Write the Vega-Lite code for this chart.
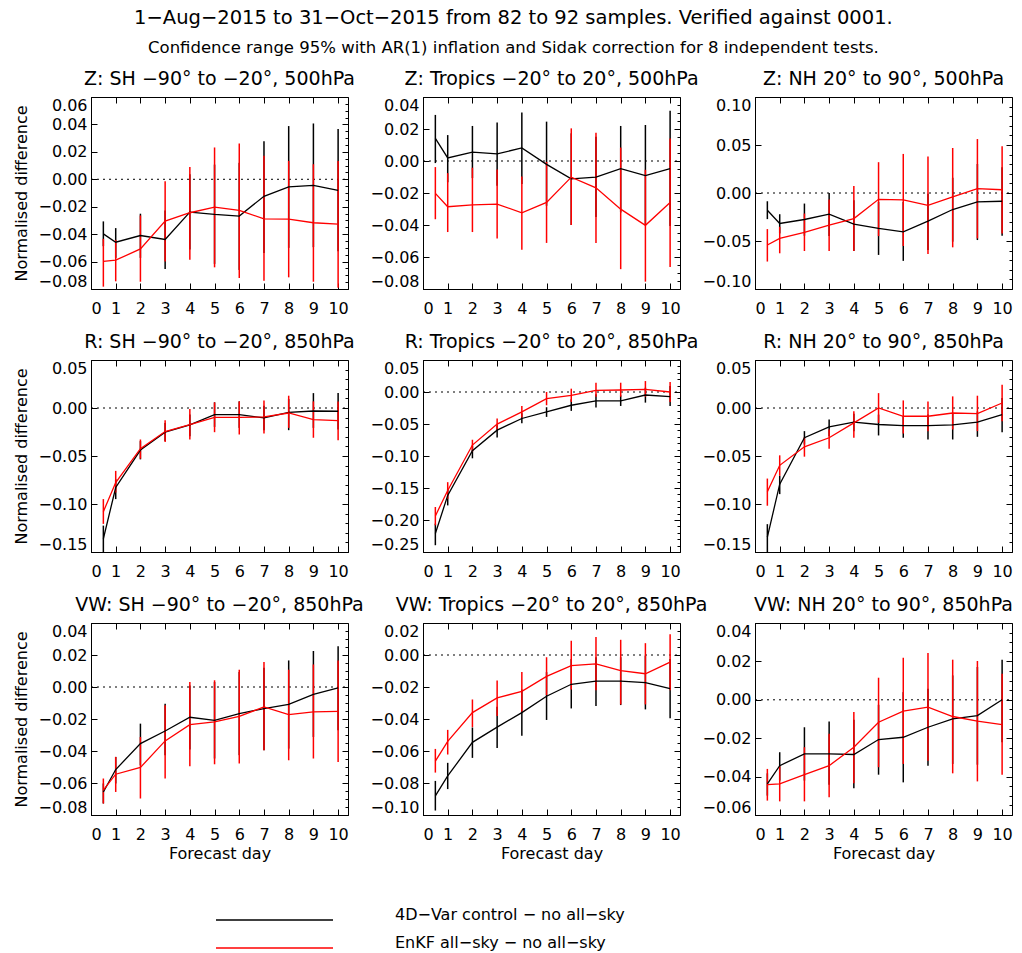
{
"$schema": "https://vega.github.io/schema/vega-lite/v6.json",
"padding": {"left": 13, "top": 8, "right": 5, "bottom": 5},
"title": {"text": "1−Aug−2015 to 31−Oct−2015 from 82 to 92 samples. Verified against 0001.", "subtitle": "Confidence range 95% with AR(1) inflation and Sidak correction for 8 independent tests.", "font": "DejaVu Sans", "subtitleFont": "DejaVu Sans", "fontSize": 19.5, "subtitleFontSize": 16.5, "fontWeight": "normal", "color": "black", "subtitleColor": "black", "anchor": "middle", "offset": 12, "subtitlePadding": 11},
"data": {"values": [
{"p":1,"s":"4D−Var control − no all−sky","d":0.5,"v":-0.0398,"lo":-0.0488,"hi":-0.0307},
{"p":1,"s":"4D−Var control − no all−sky","d":1,"v":-0.0459,"lo":-0.0573,"hi":-0.0356},
{"p":1,"s":"4D−Var control − no all−sky","d":2,"v":-0.041,"lo":-0.0573,"hi":-0.0251},
{"p":1,"s":"4D−Var control − no all−sky","d":3,"v":-0.0439,"lo":-0.0654,"hi":-0.0227},
{"p":1,"s":"4D−Var control − no all−sky","d":4,"v":-0.0239,"lo":-0.0512,"hi":0.0037},
{"p":1,"s":"4D−Var control − no all−sky","d":5,"v":-0.0256,"lo":-0.0617,"hi":0.0107},
{"p":1,"s":"4D−Var control − no all−sky","d":6,"v":-0.0268,"lo":-0.0661,"hi":0.012},
{"p":1,"s":"4D−Var control − no all−sky","d":7,"v":-0.0124,"lo":-0.0537,"hi":0.0278},
{"p":1,"s":"4D−Var control − no all−sky","d":8,"v":-0.0056,"lo":-0.05,"hi":0.0388},
{"p":1,"s":"4D−Var control − no all−sky","d":9,"v":-0.0044,"lo":-0.0495,"hi":0.0407},
{"p":1,"s":"4D−Var control − no all−sky","d":10,"v":-0.0081,"lo":-0.0525,"hi":0.0366},
{"p":1,"s":"EnKF all−sky − no all−sky","d":0.5,"v":-0.0598,"lo":-0.0783,"hi":-0.0434},
{"p":1,"s":"EnKF all−sky − no all−sky","d":1,"v":-0.059,"lo":-0.0744,"hi":-0.0442},
{"p":1,"s":"EnKF all−sky − no all−sky","d":2,"v":-0.0508,"lo":-0.0747,"hi":-0.0264},
{"p":1,"s":"EnKF all−sky − no all−sky","d":3,"v":-0.0305,"lo":-0.06,"hi":-0.0015},
{"p":1,"s":"EnKF all−sky − no all−sky","d":4,"v":-0.0244,"lo":-0.0586,"hi":0.009},
{"p":1,"s":"EnKF all−sky − no all−sky","d":5,"v":-0.0203,"lo":-0.0642,"hi":0.0232},
{"p":1,"s":"EnKF all−sky − no all−sky","d":6,"v":-0.0227,"lo":-0.072,"hi":0.0261},
{"p":1,"s":"EnKF all−sky − no all−sky","d":7,"v":-0.0288,"lo":-0.0739,"hi":0.0171},
{"p":1,"s":"EnKF all−sky − no all−sky","d":8,"v":-0.029,"lo":-0.0715,"hi":0.0134},
{"p":1,"s":"EnKF all−sky − no all−sky","d":9,"v":-0.0317,"lo":-0.0747,"hi":0.011},
{"p":1,"s":"EnKF all−sky − no all−sky","d":10,"v":-0.0327,"lo":-0.079,"hi":0.0134},
{"p":2,"s":"4D−Var control − no all−sky","d":0.5,"v":0.0141,"lo":-0.0013,"hi":0.0288},
{"p":2,"s":"4D−Var control − no all−sky","d":1,"v":0.0019,"lo":-0.0133,"hi":0.0162},
{"p":2,"s":"4D−Var control − no all−sky","d":2,"v":0.0055,"lo":-0.0107,"hi":0.0219},
{"p":2,"s":"4D−Var control − no all−sky","d":3,"v":0.0044,"lo":-0.0154,"hi":0.024},
{"p":2,"s":"4D−Var control − no all−sky","d":4,"v":0.0082,"lo":-0.0143,"hi":0.0303},
{"p":2,"s":"4D−Var control − no all−sky","d":5,"v":-0.0021,"lo":-0.028,"hi":0.0246},
{"p":2,"s":"4D−Var control − no all−sky","d":6,"v":-0.0112,"lo":-0.04,"hi":0.0173},
{"p":2,"s":"4D−Var control − no all−sky","d":7,"v":-0.0101,"lo":-0.035,"hi":0.0152},
{"p":2,"s":"4D−Var control − no all−sky","d":8,"v":-0.0048,"lo":-0.0322,"hi":0.0219},
{"p":2,"s":"4D−Var control − no all−sky","d":9,"v":-0.0091,"lo":-0.0396,"hi":0.0225},
{"p":2,"s":"4D−Var control − no all−sky","d":10,"v":-0.0048,"lo":-0.0406,"hi":0.0314},
{"p":2,"s":"EnKF all−sky − no all−sky","d":0.5,"v":-0.0202,"lo":-0.0364,"hi":-0.0038},
{"p":2,"s":"EnKF all−sky − no all−sky","d":1,"v":-0.0286,"lo":-0.0444,"hi":-0.0076},
{"p":2,"s":"EnKF all−sky − no all−sky","d":2,"v":-0.0274,"lo":-0.0444,"hi":-0.0042},
{"p":2,"s":"EnKF all−sky − no all−sky","d":3,"v":-0.0269,"lo":-0.0484,"hi":-0.0053},
{"p":2,"s":"EnKF all−sky − no all−sky","d":4,"v":-0.0324,"lo":-0.0554,"hi":-0.0097},
{"p":2,"s":"EnKF all−sky − no all−sky","d":5,"v":-0.0259,"lo":-0.0512,"hi":-0.0006},
{"p":2,"s":"EnKF all−sky − no all−sky","d":6,"v":-0.0101,"lo":-0.04,"hi":0.0204},
{"p":2,"s":"EnKF all−sky − no all−sky","d":7,"v":-0.0168,"lo":-0.0512,"hi":0.0177},
{"p":2,"s":"EnKF all−sky − no all−sky","d":8,"v":-0.0301,"lo":-0.0676,"hi":0.0084},
{"p":2,"s":"EnKF all−sky − no all−sky","d":9,"v":-0.0402,"lo":-0.0754,"hi":-0.0055},
{"p":2,"s":"EnKF all−sky − no all−sky","d":10,"v":-0.0259,"lo":-0.0663,"hi":0.0141},
{"p":3,"s":"4D−Var control − no all−sky","d":0.5,"v":-0.0179,"lo":-0.0272,"hi":-0.0086},
{"p":3,"s":"4D−Var control − no all−sky","d":1,"v":-0.0317,"lo":-0.0421,"hi":-0.0221},
{"p":3,"s":"4D−Var control − no all−sky","d":2,"v":-0.0276,"lo":-0.0445,"hi":-0.011},
{"p":3,"s":"4D−Var control − no all−sky","d":3,"v":-0.0221,"lo":-0.0449,"hi":0.0},
{"p":3,"s":"4D−Var control − no all−sky","d":4,"v":-0.0324,"lo":-0.0604,"hi":-0.0076},
{"p":3,"s":"4D−Var control − no all−sky","d":5,"v":-0.0369,"lo":-0.0645,"hi":-0.0093},
{"p":3,"s":"4D−Var control − no all−sky","d":6,"v":-0.0404,"lo":-0.0707,"hi":-0.0093},
{"p":3,"s":"4D−Var control − no all−sky","d":7,"v":-0.0293,"lo":-0.0593,"hi":-0.0007},
{"p":3,"s":"4D−Var control − no all−sky","d":8,"v":-0.0172,"lo":-0.0507,"hi":0.0159},
{"p":3,"s":"4D−Var control − no all−sky","d":9,"v":-0.0093,"lo":-0.049,"hi":0.0303},
{"p":3,"s":"4D−Var control − no all−sky","d":10,"v":-0.0086,"lo":-0.0445,"hi":0.0269},
{"p":3,"s":"EnKF all−sky − no all−sky","d":0.5,"v":-0.0542,"lo":-0.0714,"hi":-0.0376},
{"p":3,"s":"EnKF all−sky − no all−sky","d":1,"v":-0.0473,"lo":-0.0628,"hi":-0.0352},
{"p":3,"s":"EnKF all−sky − no all−sky","d":2,"v":-0.0411,"lo":-0.0604,"hi":-0.0214},
{"p":3,"s":"EnKF all−sky − no all−sky","d":3,"v":-0.0335,"lo":-0.0604,"hi":-0.0069},
{"p":3,"s":"EnKF all−sky − no all−sky","d":4,"v":-0.0266,"lo":-0.0604,"hi":0.0072},
{"p":3,"s":"EnKF all−sky − no all−sky","d":5,"v":-0.0066,"lo":-0.0449,"hi":0.0321},
{"p":3,"s":"EnKF all−sky − no all−sky","d":6,"v":-0.0072,"lo":-0.0552,"hi":0.0407},
{"p":3,"s":"EnKF all−sky − no all−sky","d":7,"v":-0.0128,"lo":-0.0635,"hi":0.038},
{"p":3,"s":"EnKF all−sky − no all−sky","d":8,"v":-0.0041,"lo":-0.0566,"hi":0.0469},
{"p":3,"s":"EnKF all−sky − no all−sky","d":9,"v":0.0045,"lo":-0.0473,"hi":0.0562},
{"p":3,"s":"EnKF all−sky − no all−sky","d":10,"v":0.0034,"lo":-0.0421,"hi":0.0486},
{"p":4,"s":"4D−Var control − no all−sky","d":0.5,"v":-0.1362,"lo":-0.15,"hi":-0.1225},
{"p":4,"s":"4D−Var control − no all−sky","d":1,"v":-0.0828,"lo":-0.0949,"hi":-0.0742},
{"p":4,"s":"4D−Var control − no all−sky","d":2,"v":-0.0438,"lo":-0.0535,"hi":-0.0345},
{"p":4,"s":"4D−Var control − no all−sky","d":3,"v":-0.0252,"lo":-0.0345,"hi":-0.0155},
{"p":4,"s":"4D−Var control − no all−sky","d":4,"v":-0.0176,"lo":-0.0293,"hi":-0.0069},
{"p":4,"s":"4D−Var control − no all−sky","d":5,"v":-0.0069,"lo":-0.0197,"hi":0.0059},
{"p":4,"s":"4D−Var control − no all−sky","d":6,"v":-0.0069,"lo":-0.0207,"hi":0.0069},
{"p":4,"s":"4D−Var control − no all−sky","d":7,"v":-0.0103,"lo":-0.0231,"hi":0.0024},
{"p":4,"s":"4D−Var control − no all−sky","d":8,"v":-0.0045,"lo":-0.0231,"hi":0.0093},
{"p":4,"s":"4D−Var control − no all−sky","d":9,"v":-0.0031,"lo":-0.0207,"hi":0.0155},
{"p":4,"s":"4D−Var control − no all−sky","d":10,"v":-0.0034,"lo":-0.0224,"hi":0.0155},
{"p":4,"s":"EnKF all−sky − no all−sky","d":0.5,"v":-0.108,"lo":-0.1207,"hi":-0.0949},
{"p":4,"s":"EnKF all−sky − no all−sky","d":1,"v":-0.0776,"lo":-0.088,"hi":-0.0655},
{"p":4,"s":"EnKF all−sky − no all−sky","d":2,"v":-0.0424,"lo":-0.0528,"hi":-0.0328},
{"p":4,"s":"EnKF all−sky − no all−sky","d":3,"v":-0.0245,"lo":-0.0355,"hi":-0.0128},
{"p":4,"s":"EnKF all−sky − no all−sky","d":4,"v":-0.0172,"lo":-0.0328,"hi":-0.001},
{"p":4,"s":"EnKF all−sky − no all−sky","d":5,"v":-0.0097,"lo":-0.0252,"hi":0.0059},
{"p":4,"s":"EnKF all−sky − no all−sky","d":6,"v":-0.0097,"lo":-0.0276,"hi":0.0069},
{"p":4,"s":"EnKF all−sky − no all−sky","d":7,"v":-0.0093,"lo":-0.0266,"hi":0.0079},
{"p":4,"s":"EnKF all−sky − no all−sky","d":8,"v":-0.0052,"lo":-0.0207,"hi":0.0128},
{"p":4,"s":"EnKF all−sky − no all−sky","d":9,"v":-0.0121,"lo":-0.031,"hi":0.0069},
{"p":4,"s":"EnKF all−sky − no all−sky","d":10,"v":-0.0131,"lo":-0.0335,"hi":0.0069},
{"p":5,"s":"4D−Var control − no all−sky","d":0.5,"v":-0.2212,"lo":-0.2394,"hi":-0.2057},
{"p":5,"s":"4D−Var control − no all−sky","d":1,"v":-0.1616,"lo":-0.1772,"hi":-0.1513},
{"p":5,"s":"4D−Var control − no all−sky","d":2,"v":-0.0917,"lo":-0.1036,"hi":-0.0839},
{"p":5,"s":"4D−Var control − no all−sky","d":3,"v":-0.0596,"lo":-0.071,"hi":-0.0518},
{"p":5,"s":"4D−Var control − no all−sky","d":4,"v":-0.0414,"lo":-0.0487,"hi":-0.0332},
{"p":5,"s":"4D−Var control − no all−sky","d":5,"v":-0.0311,"lo":-0.0389,"hi":-0.0238},
{"p":5,"s":"4D−Var control − no all−sky","d":6,"v":-0.0207,"lo":-0.0295,"hi":-0.0114},
{"p":5,"s":"4D−Var control − no all−sky","d":7,"v":-0.014,"lo":-0.0244,"hi":-0.0036},
{"p":5,"s":"4D−Var control − no all−sky","d":8,"v":-0.014,"lo":-0.0218,"hi":-0.0052},
{"p":5,"s":"4D−Var control − no all−sky","d":9,"v":-0.0047,"lo":-0.0166,"hi":0.0067},
{"p":5,"s":"4D−Var control − no all−sky","d":10,"v":-0.0073,"lo":-0.0218,"hi":0.0093},
{"p":5,"s":"EnKF all−sky − no all−sky","d":0.5,"v":-0.1937,"lo":-0.2083,"hi":-0.1797},
{"p":5,"s":"EnKF all−sky − no all−sky","d":1,"v":-0.1538,"lo":-0.1668,"hi":-0.1409},
{"p":5,"s":"EnKF all−sky − no all−sky","d":2,"v":-0.0829,"lo":-0.0932,"hi":-0.0746},
{"p":5,"s":"EnKF all−sky − no all−sky","d":3,"v":-0.0502,"lo":-0.0591,"hi":-0.0414},
{"p":5,"s":"EnKF all−sky − no all−sky","d":4,"v":-0.0311,"lo":-0.0399,"hi":-0.0218},
{"p":5,"s":"EnKF all−sky − no all−sky","d":5,"v":-0.0104,"lo":-0.0207,"hi":0.0},
{"p":5,"s":"EnKF all−sky − no all−sky","d":6,"v":-0.0052,"lo":-0.0155,"hi":0.0052},
{"p":5,"s":"EnKF all−sky − no all−sky","d":7,"v":0.0026,"lo":-0.0073,"hi":0.0145},
{"p":5,"s":"EnKF all−sky − no all−sky","d":8,"v":0.0031,"lo":-0.0073,"hi":0.0145},
{"p":5,"s":"EnKF all−sky − no all−sky","d":9,"v":0.0041,"lo":-0.0073,"hi":0.0171},
{"p":5,"s":"EnKF all−sky − no all−sky","d":10,"v":0.0,"lo":-0.0155,"hi":0.0155},
{"p":6,"s":"4D−Var control − no all−sky","d":0.5,"v":-0.1345,"lo":-0.15,"hi":-0.121},
{"p":6,"s":"4D−Var control − no all−sky","d":1,"v":-0.0794,"lo":-0.0897,"hi":-0.0707},
{"p":6,"s":"4D−Var control − no all−sky","d":2,"v":-0.031,"lo":-0.038,"hi":-0.0241},
{"p":6,"s":"4D−Var control − no all−sky","d":3,"v":-0.0197,"lo":-0.0293,"hi":-0.0121},
{"p":6,"s":"4D−Var control − no all−sky","d":4,"v":-0.0148,"lo":-0.0241,"hi":-0.0059},
{"p":6,"s":"4D−Var control − no all−sky","d":5,"v":-0.0172,"lo":-0.0286,"hi":-0.0069},
{"p":6,"s":"4D−Var control − no all−sky","d":6,"v":-0.0183,"lo":-0.031,"hi":-0.0086},
{"p":6,"s":"4D−Var control − no all−sky","d":7,"v":-0.0183,"lo":-0.0328,"hi":-0.0069},
{"p":6,"s":"4D−Var control − no all−sky","d":8,"v":-0.0176,"lo":-0.0328,"hi":-0.0059},
{"p":6,"s":"4D−Var control − no all−sky","d":9,"v":-0.0148,"lo":-0.03,"hi":-0.0035},
{"p":6,"s":"4D−Var control − no all−sky","d":10,"v":-0.0069,"lo":-0.0252,"hi":0.0104},
{"p":6,"s":"EnKF all−sky − no all−sky","d":0.5,"v":-0.0873,"lo":-0.1018,"hi":-0.0735},
{"p":6,"s":"EnKF all−sky − no all−sky","d":1,"v":-0.0597,"lo":-0.0707,"hi":-0.0493},
{"p":6,"s":"EnKF all−sky − no all−sky","d":2,"v":-0.0404,"lo":-0.0507,"hi":-0.0304},
{"p":6,"s":"EnKF all−sky − no all−sky","d":3,"v":-0.031,"lo":-0.0424,"hi":-0.0224},
{"p":6,"s":"EnKF all−sky − no all−sky","d":4,"v":-0.0155,"lo":-0.031,"hi":-0.0035},
{"p":6,"s":"EnKF all−sky − no all−sky","d":5,"v":0.0,"lo":-0.0155,"hi":0.0155},
{"p":6,"s":"EnKF all−sky − no all−sky","d":6,"v":-0.0086,"lo":-0.0266,"hi":0.0079},
{"p":6,"s":"EnKF all−sky − no all−sky","d":7,"v":-0.0086,"lo":-0.0241,"hi":0.0069},
{"p":6,"s":"EnKF all−sky − no all−sky","d":8,"v":-0.0052,"lo":-0.0224,"hi":0.0121},
{"p":6,"s":"EnKF all−sky − no all−sky","d":9,"v":-0.0059,"lo":-0.0241,"hi":0.0128},
{"p":6,"s":"EnKF all−sky − no all−sky","d":10,"v":0.0052,"lo":-0.0138,"hi":0.0241},
{"p":7,"s":"4D−Var control − no all−sky","d":0.5,"v":-0.0656,"lo":-0.0728,"hi":-0.0603},
{"p":7,"s":"4D−Var control − no all−sky","d":1,"v":-0.0516,"lo":-0.0603,"hi":-0.0437},
{"p":7,"s":"4D−Var control − no all−sky","d":2,"v":-0.0354,"lo":-0.0489,"hi":-0.0229},
{"p":7,"s":"4D−Var control − no all−sky","d":3,"v":-0.0275,"lo":-0.0426,"hi":-0.0104},
{"p":7,"s":"4D−Var control − no all−sky","d":4,"v":-0.0189,"lo":-0.0391,"hi":0.001},
{"p":7,"s":"4D−Var control − no all−sky","d":5,"v":-0.0208,"lo":-0.0447,"hi":0.0031},
{"p":7,"s":"4D−Var control − no all−sky","d":6,"v":-0.0166,"lo":-0.0426,"hi":0.0094},
{"p":7,"s":"4D−Var control − no all−sky","d":7,"v":-0.0135,"lo":-0.0395,"hi":0.0121},
{"p":7,"s":"4D−Var control − no all−sky","d":8,"v":-0.0108,"lo":-0.0385,"hi":0.0166},
{"p":7,"s":"4D−Var control − no all−sky","d":9,"v":-0.0046,"lo":-0.0312,"hi":0.0225},
{"p":7,"s":"4D−Var control − no all−sky","d":10,"v":-0.0006,"lo":-0.027,"hi":0.0254},
{"p":7,"s":"EnKF all−sky − no all−sky","d":0.5,"v":-0.0645,"lo":-0.0728,"hi":-0.0572},
{"p":7,"s":"EnKF all−sky − no all−sky","d":1,"v":-0.0545,"lo":-0.0656,"hi":-0.0437},
{"p":7,"s":"EnKF all−sky − no all−sky","d":2,"v":-0.0503,"lo":-0.0697,"hi":-0.0312},
{"p":7,"s":"EnKF all−sky − no all−sky","d":3,"v":-0.0337,"lo":-0.0572,"hi":-0.0114},
{"p":7,"s":"EnKF all−sky − no all−sky","d":4,"v":-0.0235,"lo":-0.0495,"hi":0.0031},
{"p":7,"s":"EnKF all−sky − no all−sky","d":5,"v":-0.0218,"lo":-0.0483,"hi":0.0042},
{"p":7,"s":"EnKF all−sky − no all−sky","d":6,"v":-0.0183,"lo":-0.0478,"hi":0.0108},
{"p":7,"s":"EnKF all−sky − no all−sky","d":7,"v":-0.0125,"lo":-0.0395,"hi":0.0156},
{"p":7,"s":"EnKF all−sky − no all−sky","d":8,"v":-0.0173,"lo":-0.0458,"hi":0.0108},
{"p":7,"s":"EnKF all−sky − no all−sky","d":9,"v":-0.0156,"lo":-0.0447,"hi":0.0141},
{"p":7,"s":"EnKF all−sky − no all−sky","d":10,"v":-0.0152,"lo":-0.0468,"hi":0.0166},
{"p":8,"s":"4D−Var control − no all−sky","d":0.5,"v":-0.088,"lo":-0.0972,"hi":-0.0787},
{"p":8,"s":"4D−Var control − no all−sky","d":1,"v":-0.0756,"lo":-0.0838,"hi":-0.0674},
{"p":8,"s":"4D−Var control − no all−sky","d":2,"v":-0.0546,"lo":-0.0643,"hi":-0.0453},
{"p":8,"s":"4D−Var control − no all−sky","d":3,"v":-0.0451,"lo":-0.0581,"hi":-0.0323},
{"p":8,"s":"4D−Var control − no all−sky","d":4,"v":-0.036,"lo":-0.0505,"hi":-0.0216},
{"p":8,"s":"4D−Var control − no all−sky","d":5,"v":-0.0258,"lo":-0.0406,"hi":-0.0107},
{"p":8,"s":"4D−Var control − no all−sky","d":6,"v":-0.0183,"lo":-0.0334,"hi":-0.0025},
{"p":8,"s":"4D−Var control − no all−sky","d":7,"v":-0.0163,"lo":-0.0319,"hi":-0.0014},
{"p":8,"s":"4D−Var control − no all−sky","d":8,"v":-0.0163,"lo":-0.0313,"hi":-0.0014},
{"p":8,"s":"4D−Var control − no all−sky","d":9,"v":-0.0173,"lo":-0.034,"hi":-0.0004},
{"p":8,"s":"4D−Var control − no all−sky","d":10,"v":-0.021,"lo":-0.0396,"hi":-0.0025},
{"p":8,"s":"EnKF all−sky − no all−sky","d":0.5,"v":-0.0663,"lo":-0.0735,"hi":-0.0587},
{"p":8,"s":"EnKF all−sky − no all−sky","d":1,"v":-0.054,"lo":-0.0622,"hi":-0.0468},
{"p":8,"s":"EnKF all−sky − no all−sky","d":2,"v":-0.036,"lo":-0.0451,"hi":-0.0278},
{"p":8,"s":"EnKF all−sky − no all−sky","d":3,"v":-0.0268,"lo":-0.0381,"hi":-0.0159},
{"p":8,"s":"EnKF all−sky − no all−sky","d":4,"v":-0.0227,"lo":-0.0354,"hi":-0.0107},
{"p":8,"s":"EnKF all−sky − no all−sky","d":5,"v":-0.0134,"lo":-0.0251,"hi":-0.0014},
{"p":8,"s":"EnKF all−sky − no all−sky","d":6,"v":-0.0066,"lo":-0.0216,"hi":0.0089},
{"p":8,"s":"EnKF all−sky − no all−sky","d":7,"v":-0.0056,"lo":-0.022,"hi":0.0113},
{"p":8,"s":"EnKF all−sky − no all−sky","d":8,"v":-0.0097,"lo":-0.0309,"hi":0.0095},
{"p":8,"s":"EnKF all−sky − no all−sky","d":9,"v":-0.0117,"lo":-0.0309,"hi":0.0074},
{"p":8,"s":"EnKF all−sky − no all−sky","d":10,"v":-0.0045,"lo":-0.022,"hi":0.013},
{"p":9,"s":"4D−Var control − no all−sky","d":0.5,"v":-0.0438,"lo":-0.0499,"hi":-0.0383},
{"p":9,"s":"4D−Var control − no all−sky","d":1,"v":-0.0343,"lo":-0.0421,"hi":-0.0273},
{"p":9,"s":"4D−Var control − no all−sky","d":2,"v":-0.0282,"lo":-0.0421,"hi":-0.0143},
{"p":9,"s":"4D−Var control − no all−sky","d":3,"v":-0.0282,"lo":-0.0442,"hi":-0.0113},
{"p":9,"s":"4D−Var control − no all−sky","d":4,"v":-0.0285,"lo":-0.0461,"hi":-0.0104},
{"p":9,"s":"4D−Var control − no all−sky","d":5,"v":-0.0207,"lo":-0.039,"hi":-0.0026},
{"p":9,"s":"4D−Var control − no all−sky","d":6,"v":-0.0195,"lo":-0.043,"hi":0.004},
{"p":9,"s":"4D−Var control − no all−sky","d":7,"v":-0.0143,"lo":-0.0343,"hi":0.0057},
{"p":9,"s":"4D−Var control − no all−sky","d":8,"v":-0.0099,"lo":-0.0334,"hi":0.0127},
{"p":9,"s":"4D−Var control − no all−sky","d":9,"v":-0.0082,"lo":-0.0338,"hi":0.0171},
{"p":9,"s":"4D−Var control − no all−sky","d":10,"v":0.0,"lo":-0.0221,"hi":0.0209},
{"p":9,"s":"EnKF all−sky − no all−sky","d":0.5,"v":-0.0442,"lo":-0.0525,"hi":-0.036},
{"p":9,"s":"EnKF all−sky − no all−sky","d":1,"v":-0.0438,"lo":-0.0529,"hi":-0.0346},
{"p":9,"s":"EnKF all−sky − no all−sky","d":2,"v":-0.039,"lo":-0.0529,"hi":-0.0247},
{"p":9,"s":"EnKF all−sky − no all−sky","d":3,"v":-0.0343,"lo":-0.0508,"hi":-0.0177},
{"p":9,"s":"EnKF all−sky − no all−sky","d":4,"v":-0.0247,"lo":-0.0435,"hi":-0.0064},
{"p":9,"s":"EnKF all−sky − no all−sky","d":5,"v":-0.0117,"lo":-0.0351,"hi":0.0115},
{"p":9,"s":"EnKF all−sky − no all−sky","d":6,"v":-0.0059,"lo":-0.0334,"hi":0.0219},
{"p":9,"s":"EnKF all−sky − no all−sky","d":7,"v":-0.0038,"lo":-0.0317,"hi":0.0244},
{"p":9,"s":"EnKF all−sky − no all−sky","d":8,"v":-0.0087,"lo":-0.0383,"hi":0.0209},
{"p":9,"s":"EnKF all−sky − no all−sky","d":9,"v":-0.0111,"lo":-0.0425,"hi":0.0202},
{"p":9,"s":"EnKF all−sky − no all−sky","d":10,"v":-0.0129,"lo":-0.039,"hi":0.0136}
]},
"bounds": "flush",
"columns": 3,
"spacing": {"row": 71, "column": 75},
"concat": [
{"width": 257, "height": 192, "title": "Z: SH −90° to −20°, 500hPa",
 "layer": [
  {"data": {"values": [{}]}, "mark": {"type": "rule", "strokeDash": [2, 4], "color": "black", "strokeWidth": 1},
   "encoding": {
    "x": {"datum": 0, "type": "quantitative", "scale": {"domain": [0, 10.4], "nice": false, "zero": false}, "axis": {"orient": "top", "values": [0,1,2,3,4,5,6,7,8,9,10], "labels": false, "domain": false, "title": null, "tickSize": -6}},
    "x2": {"datum": 10.4},
    "y": {"datum": 0, "type": "quantitative", "scale": {"domain": [-0.08, 0.06], "nice": false, "zero": false}, "axis": {"orient": "right", "values": [-0.08,-0.075,-0.07,-0.065,-0.06,-0.055,-0.05,-0.045,-0.04,-0.035,-0.03,-0.025,-0.02,-0.015,-0.01,-0.005,0,0.005,0.01,0.015,0.02,0.025,0.03,0.035,0.04,0.045,0.05,0.055,0.06], "labels": false, "domain": false, "title": null, "tickSize": {"condition": {"test": "abs(datum.value/0.02 - round(datum.value/0.02)) < 0.01", "value": -6}, "value": -3}}}
   }},
  {"transform": [{"filter": "datum.p == 1"}], "mark": {"type": "rule", "strokeWidth": 1.5, "clip": true},
   "encoding": {
    "x": {"field": "d", "type": "quantitative", "scale": {"domain": [0, 10.4], "nice": false, "zero": false}, "axis": {"orient": "bottom", "values": [0,1,2,3,4,5,6,7,8,9,10], "format": "d", "tickSize": -6, "labelPadding": 17, "title": null}},
    "y": {"field": "lo", "type": "quantitative", "scale": {"domain": [-0.08, 0.06], "nice": false, "zero": false}, "axis": {"orient": "left", "values": [-0.08,-0.06,-0.04,-0.02,0,0.02,0.04,0.06], "format": ".2f", "tickSize": -6, "labelPadding": 10, "labelFlush": true, "title": "Normalised difference", "titlePadding": 8}},
    "y2": {"field": "hi"},
    "color": {"field": "s", "type": "nominal", "scale": {"domain": ["4D−Var control − no all−sky", "EnKF all−sky − no all−sky"], "range": ["#000000", "#ff0000"]}, "title": null}
   }},
  {"transform": [{"filter": "datum.p == 1"}], "mark": {"type": "line", "strokeWidth": 1.3, "clip": true},
   "encoding": {
    "x": {"field": "d", "type": "quantitative", "scale": {"domain": [0, 10.4], "nice": false, "zero": false}, "axis": null},
    "y": {"field": "v", "type": "quantitative", "scale": {"domain": [-0.08, 0.06], "nice": false, "zero": false}, "axis": null},
    "color": {"field": "s", "type": "nominal", "scale": {"domain": ["4D−Var control − no all−sky", "EnKF all−sky − no all−sky"], "range": ["#000000", "#ff0000"]}, "title": null}
   }}
 ],
 "resolve": {"scale": {"x": "independent", "y": "independent"}}
},
{"width": 257, "height": 192, "title": "Z: Tropics −20° to 20°, 500hPa",
 "layer": [
  {"data": {"values": [{}]}, "mark": {"type": "rule", "strokeDash": [2, 4], "color": "black", "strokeWidth": 1},
   "encoding": {
    "x": {"datum": 0, "type": "quantitative", "scale": {"domain": [0, 10.4], "nice": false, "zero": false}, "axis": {"orient": "top", "values": [0,1,2,3,4,5,6,7,8,9,10], "labels": false, "domain": false, "title": null, "tickSize": -6}},
    "x2": {"datum": 10.4},
    "y": {"datum": 0, "type": "quantitative", "scale": {"domain": [-0.08, 0.04], "nice": false, "zero": false}, "axis": {"orient": "right", "values": [-0.08,-0.075,-0.07,-0.065,-0.06,-0.055,-0.05,-0.045,-0.04,-0.035,-0.03,-0.025,-0.02,-0.015,-0.01,-0.005,0,0.005,0.01,0.015,0.02,0.025,0.03,0.035,0.04], "labels": false, "domain": false, "title": null, "tickSize": {"condition": {"test": "abs(datum.value/0.02 - round(datum.value/0.02)) < 0.01", "value": -6}, "value": -3}}}
   }},
  {"transform": [{"filter": "datum.p == 2"}], "mark": {"type": "rule", "strokeWidth": 1.5, "clip": true},
   "encoding": {
    "x": {"field": "d", "type": "quantitative", "scale": {"domain": [0, 10.4], "nice": false, "zero": false}, "axis": {"orient": "bottom", "values": [0,1,2,3,4,5,6,7,8,9,10], "format": "d", "tickSize": -6, "labelPadding": 17, "title": null}},
    "y": {"field": "lo", "type": "quantitative", "scale": {"domain": [-0.08, 0.04], "nice": false, "zero": false}, "axis": {"orient": "left", "values": [-0.08,-0.06,-0.04,-0.02,0,0.02,0.04], "format": ".2f", "tickSize": -6, "labelPadding": 10, "labelFlush": true, "title": null}},
    "y2": {"field": "hi"},
    "color": {"field": "s", "type": "nominal", "scale": {"domain": ["4D−Var control − no all−sky", "EnKF all−sky − no all−sky"], "range": ["#000000", "#ff0000"]}, "title": null}
   }},
  {"transform": [{"filter": "datum.p == 2"}], "mark": {"type": "line", "strokeWidth": 1.3, "clip": true},
   "encoding": {
    "x": {"field": "d", "type": "quantitative", "scale": {"domain": [0, 10.4], "nice": false, "zero": false}, "axis": null},
    "y": {"field": "v", "type": "quantitative", "scale": {"domain": [-0.08, 0.04], "nice": false, "zero": false}, "axis": null},
    "color": {"field": "s", "type": "nominal", "scale": {"domain": ["4D−Var control − no all−sky", "EnKF all−sky − no all−sky"], "range": ["#000000", "#ff0000"]}, "title": null}
   }}
 ],
 "resolve": {"scale": {"x": "independent", "y": "independent"}}
},
{"width": 257, "height": 192, "title": "Z: NH 20° to 90°, 500hPa",
 "layer": [
  {"data": {"values": [{}]}, "mark": {"type": "rule", "strokeDash": [2, 4], "color": "black", "strokeWidth": 1},
   "encoding": {
    "x": {"datum": 0, "type": "quantitative", "scale": {"domain": [0, 10.4], "nice": false, "zero": false}, "axis": {"orient": "top", "values": [0,1,2,3,4,5,6,7,8,9,10], "labels": false, "domain": false, "title": null, "tickSize": -6}},
    "x2": {"datum": 10.4},
    "y": {"datum": 0, "type": "quantitative", "scale": {"domain": [-0.1, 0.1], "nice": false, "zero": false}, "axis": {"orient": "right", "values": [-0.1,-0.09,-0.08,-0.07,-0.06,-0.05,-0.04,-0.03,-0.02,-0.01,0,0.01,0.02,0.03,0.04,0.05,0.06,0.07,0.08,0.09,0.1], "labels": false, "domain": false, "title": null, "tickSize": {"condition": {"test": "abs(datum.value/0.05 - round(datum.value/0.05)) < 0.01", "value": -6}, "value": -3}}}
   }},
  {"transform": [{"filter": "datum.p == 3"}], "mark": {"type": "rule", "strokeWidth": 1.5, "clip": true},
   "encoding": {
    "x": {"field": "d", "type": "quantitative", "scale": {"domain": [0, 10.4], "nice": false, "zero": false}, "axis": {"orient": "bottom", "values": [0,1,2,3,4,5,6,7,8,9,10], "format": "d", "tickSize": -6, "labelPadding": 17, "title": null}},
    "y": {"field": "lo", "type": "quantitative", "scale": {"domain": [-0.1, 0.1], "nice": false, "zero": false}, "axis": {"orient": "left", "values": [-0.1,-0.05,0,0.05,0.1], "format": ".2f", "tickSize": -6, "labelPadding": 10, "labelFlush": true, "title": null}},
    "y2": {"field": "hi"},
    "color": {"field": "s", "type": "nominal", "scale": {"domain": ["4D−Var control − no all−sky", "EnKF all−sky − no all−sky"], "range": ["#000000", "#ff0000"]}, "title": null}
   }},
  {"transform": [{"filter": "datum.p == 3"}], "mark": {"type": "line", "strokeWidth": 1.3, "clip": true},
   "encoding": {
    "x": {"field": "d", "type": "quantitative", "scale": {"domain": [0, 10.4], "nice": false, "zero": false}, "axis": null},
    "y": {"field": "v", "type": "quantitative", "scale": {"domain": [-0.1, 0.1], "nice": false, "zero": false}, "axis": null},
    "color": {"field": "s", "type": "nominal", "scale": {"domain": ["4D−Var control − no all−sky", "EnKF all−sky − no all−sky"], "range": ["#000000", "#ff0000"]}, "title": null}
   }}
 ],
 "resolve": {"scale": {"x": "independent", "y": "independent"}}
},
{"width": 257, "height": 192, "title": "R: SH −90° to −20°, 850hPa",
 "layer": [
  {"data": {"values": [{}]}, "mark": {"type": "rule", "strokeDash": [2, 4], "color": "black", "strokeWidth": 1},
   "encoding": {
    "x": {"datum": 0, "type": "quantitative", "scale": {"domain": [0, 10.4], "nice": false, "zero": false}, "axis": {"orient": "top", "values": [0,1,2,3,4,5,6,7,8,9,10], "labels": false, "domain": false, "title": null, "tickSize": -6}},
    "x2": {"datum": 10.4},
    "y": {"datum": 0, "type": "quantitative", "scale": {"domain": [-0.15, 0.05], "nice": false, "zero": false}, "axis": {"orient": "right", "values": [-0.15,-0.14,-0.13,-0.12,-0.11,-0.1,-0.09,-0.08,-0.07,-0.06,-0.05,-0.04,-0.03,-0.02,-0.01,0,0.01,0.02,0.03,0.04,0.05], "labels": false, "domain": false, "title": null, "tickSize": {"condition": {"test": "abs(datum.value/0.05 - round(datum.value/0.05)) < 0.01", "value": -6}, "value": -3}}}
   }},
  {"transform": [{"filter": "datum.p == 4"}], "mark": {"type": "rule", "strokeWidth": 1.5, "clip": true},
   "encoding": {
    "x": {"field": "d", "type": "quantitative", "scale": {"domain": [0, 10.4], "nice": false, "zero": false}, "axis": {"orient": "bottom", "values": [0,1,2,3,4,5,6,7,8,9,10], "format": "d", "tickSize": -6, "labelPadding": 17, "title": null}},
    "y": {"field": "lo", "type": "quantitative", "scale": {"domain": [-0.15, 0.05], "nice": false, "zero": false}, "axis": {"orient": "left", "values": [-0.15,-0.1,-0.05,0,0.05], "format": ".2f", "tickSize": -6, "labelPadding": 10, "labelFlush": true, "title": "Normalised difference", "titlePadding": 8}},
    "y2": {"field": "hi"},
    "color": {"field": "s", "type": "nominal", "scale": {"domain": ["4D−Var control − no all−sky", "EnKF all−sky − no all−sky"], "range": ["#000000", "#ff0000"]}, "title": null}
   }},
  {"transform": [{"filter": "datum.p == 4"}], "mark": {"type": "line", "strokeWidth": 1.3, "clip": true},
   "encoding": {
    "x": {"field": "d", "type": "quantitative", "scale": {"domain": [0, 10.4], "nice": false, "zero": false}, "axis": null},
    "y": {"field": "v", "type": "quantitative", "scale": {"domain": [-0.15, 0.05], "nice": false, "zero": false}, "axis": null},
    "color": {"field": "s", "type": "nominal", "scale": {"domain": ["4D−Var control − no all−sky", "EnKF all−sky − no all−sky"], "range": ["#000000", "#ff0000"]}, "title": null}
   }}
 ],
 "resolve": {"scale": {"x": "independent", "y": "independent"}}
},
{"width": 257, "height": 192, "title": "R: Tropics −20° to 20°, 850hPa",
 "layer": [
  {"data": {"values": [{}]}, "mark": {"type": "rule", "strokeDash": [2, 4], "color": "black", "strokeWidth": 1},
   "encoding": {
    "x": {"datum": 0, "type": "quantitative", "scale": {"domain": [0, 10.4], "nice": false, "zero": false}, "axis": {"orient": "top", "values": [0,1,2,3,4,5,6,7,8,9,10], "labels": false, "domain": false, "title": null, "tickSize": -6}},
    "x2": {"datum": 10.4},
    "y": {"datum": 0, "type": "quantitative", "scale": {"domain": [-0.25, 0.05], "nice": false, "zero": false}, "axis": {"orient": "right", "values": [-0.25,-0.24,-0.23,-0.22,-0.21,-0.2,-0.19,-0.18,-0.17,-0.16,-0.15,-0.14,-0.13,-0.12,-0.11,-0.1,-0.09,-0.08,-0.07,-0.06,-0.05,-0.04,-0.03,-0.02,-0.01,0,0.01,0.02,0.03,0.04,0.05], "labels": false, "domain": false, "title": null, "tickSize": {"condition": {"test": "abs(datum.value/0.05 - round(datum.value/0.05)) < 0.01", "value": -6}, "value": -3}}}
   }},
  {"transform": [{"filter": "datum.p == 5"}], "mark": {"type": "rule", "strokeWidth": 1.5, "clip": true},
   "encoding": {
    "x": {"field": "d", "type": "quantitative", "scale": {"domain": [0, 10.4], "nice": false, "zero": false}, "axis": {"orient": "bottom", "values": [0,1,2,3,4,5,6,7,8,9,10], "format": "d", "tickSize": -6, "labelPadding": 17, "title": null}},
    "y": {"field": "lo", "type": "quantitative", "scale": {"domain": [-0.25, 0.05], "nice": false, "zero": false}, "axis": {"orient": "left", "values": [-0.25,-0.2,-0.15,-0.1,-0.05,0,0.05], "format": ".2f", "tickSize": -6, "labelPadding": 10, "labelFlush": true, "title": null}},
    "y2": {"field": "hi"},
    "color": {"field": "s", "type": "nominal", "scale": {"domain": ["4D−Var control − no all−sky", "EnKF all−sky − no all−sky"], "range": ["#000000", "#ff0000"]}, "title": null}
   }},
  {"transform": [{"filter": "datum.p == 5"}], "mark": {"type": "line", "strokeWidth": 1.3, "clip": true},
   "encoding": {
    "x": {"field": "d", "type": "quantitative", "scale": {"domain": [0, 10.4], "nice": false, "zero": false}, "axis": null},
    "y": {"field": "v", "type": "quantitative", "scale": {"domain": [-0.25, 0.05], "nice": false, "zero": false}, "axis": null},
    "color": {"field": "s", "type": "nominal", "scale": {"domain": ["4D−Var control − no all−sky", "EnKF all−sky − no all−sky"], "range": ["#000000", "#ff0000"]}, "title": null}
   }}
 ],
 "resolve": {"scale": {"x": "independent", "y": "independent"}}
},
{"width": 257, "height": 192, "title": "R: NH 20° to 90°, 850hPa",
 "layer": [
  {"data": {"values": [{}]}, "mark": {"type": "rule", "strokeDash": [2, 4], "color": "black", "strokeWidth": 1},
   "encoding": {
    "x": {"datum": 0, "type": "quantitative", "scale": {"domain": [0, 10.4], "nice": false, "zero": false}, "axis": {"orient": "top", "values": [0,1,2,3,4,5,6,7,8,9,10], "labels": false, "domain": false, "title": null, "tickSize": -6}},
    "x2": {"datum": 10.4},
    "y": {"datum": 0, "type": "quantitative", "scale": {"domain": [-0.15, 0.05], "nice": false, "zero": false}, "axis": {"orient": "right", "values": [-0.15,-0.14,-0.13,-0.12,-0.11,-0.1,-0.09,-0.08,-0.07,-0.06,-0.05,-0.04,-0.03,-0.02,-0.01,0,0.01,0.02,0.03,0.04,0.05], "labels": false, "domain": false, "title": null, "tickSize": {"condition": {"test": "abs(datum.value/0.05 - round(datum.value/0.05)) < 0.01", "value": -6}, "value": -3}}}
   }},
  {"transform": [{"filter": "datum.p == 6"}], "mark": {"type": "rule", "strokeWidth": 1.5, "clip": true},
   "encoding": {
    "x": {"field": "d", "type": "quantitative", "scale": {"domain": [0, 10.4], "nice": false, "zero": false}, "axis": {"orient": "bottom", "values": [0,1,2,3,4,5,6,7,8,9,10], "format": "d", "tickSize": -6, "labelPadding": 17, "title": null}},
    "y": {"field": "lo", "type": "quantitative", "scale": {"domain": [-0.15, 0.05], "nice": false, "zero": false}, "axis": {"orient": "left", "values": [-0.15,-0.1,-0.05,0,0.05], "format": ".2f", "tickSize": -6, "labelPadding": 10, "labelFlush": true, "title": null}},
    "y2": {"field": "hi"},
    "color": {"field": "s", "type": "nominal", "scale": {"domain": ["4D−Var control − no all−sky", "EnKF all−sky − no all−sky"], "range": ["#000000", "#ff0000"]}, "title": null}
   }},
  {"transform": [{"filter": "datum.p == 6"}], "mark": {"type": "line", "strokeWidth": 1.3, "clip": true},
   "encoding": {
    "x": {"field": "d", "type": "quantitative", "scale": {"domain": [0, 10.4], "nice": false, "zero": false}, "axis": null},
    "y": {"field": "v", "type": "quantitative", "scale": {"domain": [-0.15, 0.05], "nice": false, "zero": false}, "axis": null},
    "color": {"field": "s", "type": "nominal", "scale": {"domain": ["4D−Var control − no all−sky", "EnKF all−sky − no all−sky"], "range": ["#000000", "#ff0000"]}, "title": null}
   }}
 ],
 "resolve": {"scale": {"x": "independent", "y": "independent"}}
},
{"width": 257, "height": 192, "title": "VW: SH −90° to −20°, 850hPa",
 "layer": [
  {"data": {"values": [{}]}, "mark": {"type": "rule", "strokeDash": [2, 4], "color": "black", "strokeWidth": 1},
   "encoding": {
    "x": {"datum": 0, "type": "quantitative", "scale": {"domain": [0, 10.4], "nice": false, "zero": false}, "axis": {"orient": "top", "values": [0,1,2,3,4,5,6,7,8,9,10], "labels": false, "domain": false, "title": null, "tickSize": -6}},
    "x2": {"datum": 10.4},
    "y": {"datum": 0, "type": "quantitative", "scale": {"domain": [-0.08, 0.04], "nice": false, "zero": false}, "axis": {"orient": "right", "values": [-0.08,-0.075,-0.07,-0.065,-0.06,-0.055,-0.05,-0.045,-0.04,-0.035,-0.03,-0.025,-0.02,-0.015,-0.01,-0.005,0,0.005,0.01,0.015,0.02,0.025,0.03,0.035,0.04], "labels": false, "domain": false, "title": null, "tickSize": {"condition": {"test": "abs(datum.value/0.02 - round(datum.value/0.02)) < 0.01", "value": -6}, "value": -3}}}
   }},
  {"transform": [{"filter": "datum.p == 7"}], "mark": {"type": "rule", "strokeWidth": 1.5, "clip": true},
   "encoding": {
    "x": {"field": "d", "type": "quantitative", "scale": {"domain": [0, 10.4], "nice": false, "zero": false}, "axis": {"orient": "bottom", "values": [0,1,2,3,4,5,6,7,8,9,10], "format": "d", "tickSize": -6, "labelPadding": 17, "title": "Forecast day", "titlePadding": 3}},
    "y": {"field": "lo", "type": "quantitative", "scale": {"domain": [-0.08, 0.04], "nice": false, "zero": false}, "axis": {"orient": "left", "values": [-0.08,-0.06,-0.04,-0.02,0,0.02,0.04], "format": ".2f", "tickSize": -6, "labelPadding": 10, "labelFlush": true, "title": "Normalised difference", "titlePadding": 8}},
    "y2": {"field": "hi"},
    "color": {"field": "s", "type": "nominal", "scale": {"domain": ["4D−Var control − no all−sky", "EnKF all−sky − no all−sky"], "range": ["#000000", "#ff0000"]}, "title": null}
   }},
  {"transform": [{"filter": "datum.p == 7"}], "mark": {"type": "line", "strokeWidth": 1.3, "clip": true},
   "encoding": {
    "x": {"field": "d", "type": "quantitative", "scale": {"domain": [0, 10.4], "nice": false, "zero": false}, "axis": null},
    "y": {"field": "v", "type": "quantitative", "scale": {"domain": [-0.08, 0.04], "nice": false, "zero": false}, "axis": null},
    "color": {"field": "s", "type": "nominal", "scale": {"domain": ["4D−Var control − no all−sky", "EnKF all−sky − no all−sky"], "range": ["#000000", "#ff0000"]}, "title": null}
   }}
 ],
 "resolve": {"scale": {"x": "independent", "y": "independent"}}
},
{"width": 257, "height": 192, "title": "VW: Tropics −20° to 20°, 850hPa",
 "layer": [
  {"data": {"values": [{}]}, "mark": {"type": "rule", "strokeDash": [2, 4], "color": "black", "strokeWidth": 1},
   "encoding": {
    "x": {"datum": 0, "type": "quantitative", "scale": {"domain": [0, 10.4], "nice": false, "zero": false}, "axis": {"orient": "top", "values": [0,1,2,3,4,5,6,7,8,9,10], "labels": false, "domain": false, "title": null, "tickSize": -6}},
    "x2": {"datum": 10.4},
    "y": {"datum": 0, "type": "quantitative", "scale": {"domain": [-0.1, 0.02], "nice": false, "zero": false}, "axis": {"orient": "right", "values": [-0.1,-0.095,-0.09,-0.085,-0.08,-0.075,-0.07,-0.065,-0.06,-0.055,-0.05,-0.045,-0.04,-0.035,-0.03,-0.025,-0.02,-0.015,-0.01,-0.005,0,0.005,0.01,0.015,0.02], "labels": false, "domain": false, "title": null, "tickSize": {"condition": {"test": "abs(datum.value/0.02 - round(datum.value/0.02)) < 0.01", "value": -6}, "value": -3}}}
   }},
  {"transform": [{"filter": "datum.p == 8"}], "mark": {"type": "rule", "strokeWidth": 1.5, "clip": true},
   "encoding": {
    "x": {"field": "d", "type": "quantitative", "scale": {"domain": [0, 10.4], "nice": false, "zero": false}, "axis": {"orient": "bottom", "values": [0,1,2,3,4,5,6,7,8,9,10], "format": "d", "tickSize": -6, "labelPadding": 17, "title": "Forecast day", "titlePadding": 3}},
    "y": {"field": "lo", "type": "quantitative", "scale": {"domain": [-0.1, 0.02], "nice": false, "zero": false}, "axis": {"orient": "left", "values": [-0.1,-0.08,-0.06,-0.04,-0.02,0,0.02], "format": ".2f", "tickSize": -6, "labelPadding": 10, "labelFlush": true, "title": null}},
    "y2": {"field": "hi"},
    "color": {"field": "s", "type": "nominal", "scale": {"domain": ["4D−Var control − no all−sky", "EnKF all−sky − no all−sky"], "range": ["#000000", "#ff0000"]}, "title": null}
   }},
  {"transform": [{"filter": "datum.p == 8"}], "mark": {"type": "line", "strokeWidth": 1.3, "clip": true},
   "encoding": {
    "x": {"field": "d", "type": "quantitative", "scale": {"domain": [0, 10.4], "nice": false, "zero": false}, "axis": null},
    "y": {"field": "v", "type": "quantitative", "scale": {"domain": [-0.1, 0.02], "nice": false, "zero": false}, "axis": null},
    "color": {"field": "s", "type": "nominal", "scale": {"domain": ["4D−Var control − no all−sky", "EnKF all−sky − no all−sky"], "range": ["#000000", "#ff0000"]}, "title": null}
   }}
 ],
 "resolve": {"scale": {"x": "independent", "y": "independent"}}
},
{"width": 257, "height": 192, "title": "VW: NH 20° to 90°, 850hPa",
 "layer": [
  {"data": {"values": [{}]}, "mark": {"type": "rule", "strokeDash": [2, 4], "color": "black", "strokeWidth": 1},
   "encoding": {
    "x": {"datum": 0, "type": "quantitative", "scale": {"domain": [0, 10.4], "nice": false, "zero": false}, "axis": {"orient": "top", "values": [0,1,2,3,4,5,6,7,8,9,10], "labels": false, "domain": false, "title": null, "tickSize": -6}},
    "x2": {"datum": 10.4},
    "y": {"datum": 0, "type": "quantitative", "scale": {"domain": [-0.06, 0.04], "nice": false, "zero": false}, "axis": {"orient": "right", "values": [-0.06,-0.055,-0.05,-0.045,-0.04,-0.035,-0.03,-0.025,-0.02,-0.015,-0.01,-0.005,0,0.005,0.01,0.015,0.02,0.025,0.03,0.035,0.04], "labels": false, "domain": false, "title": null, "tickSize": {"condition": {"test": "abs(datum.value/0.02 - round(datum.value/0.02)) < 0.01", "value": -6}, "value": -3}}}
   }},
  {"transform": [{"filter": "datum.p == 9"}], "mark": {"type": "rule", "strokeWidth": 1.5, "clip": true},
   "encoding": {
    "x": {"field": "d", "type": "quantitative", "scale": {"domain": [0, 10.4], "nice": false, "zero": false}, "axis": {"orient": "bottom", "values": [0,1,2,3,4,5,6,7,8,9,10], "format": "d", "tickSize": -6, "labelPadding": 17, "title": "Forecast day", "titlePadding": 3}},
    "y": {"field": "lo", "type": "quantitative", "scale": {"domain": [-0.06, 0.04], "nice": false, "zero": false}, "axis": {"orient": "left", "values": [-0.06,-0.04,-0.02,0,0.02,0.04], "format": ".2f", "tickSize": -6, "labelPadding": 10, "labelFlush": true, "title": null}},
    "y2": {"field": "hi"},
    "color": {"field": "s", "type": "nominal", "scale": {"domain": ["4D−Var control − no all−sky", "EnKF all−sky − no all−sky"], "range": ["#000000", "#ff0000"]}, "title": null}
   }},
  {"transform": [{"filter": "datum.p == 9"}], "mark": {"type": "line", "strokeWidth": 1.3, "clip": true},
   "encoding": {
    "x": {"field": "d", "type": "quantitative", "scale": {"domain": [0, 10.4], "nice": false, "zero": false}, "axis": null},
    "y": {"field": "v", "type": "quantitative", "scale": {"domain": [-0.06, 0.04], "nice": false, "zero": false}, "axis": null},
    "color": {"field": "s", "type": "nominal", "scale": {"domain": ["4D−Var control − no all−sky", "EnKF all−sky − no all−sky"], "range": ["#000000", "#ff0000"]}, "title": null}
   }}
 ],
 "resolve": {"scale": {"x": "independent", "y": "independent"}}
}
],
"config": {
 "font": "DejaVu Sans",
 "view": {"stroke": "black", "strokeWidth": 1},
 "axis": {"grid": false, "domainColor": "black", "domainWidth": 1, "tickColor": "black", "tickWidth": 1, "labelColor": "black", "titleColor": "black", "labelFont": "DejaVu Sans", "titleFont": "DejaVu Sans", "labelFontSize": 16, "titleFontSize": 16, "titleFontWeight": "normal"},
 "title": {"font": "DejaVu Sans", "fontSize": 19, "fontWeight": "normal", "color": "black", "offset": 8},
 "legend": {"orient": "none", "legendX": 124, "legendY": 810, "symbolType": "stroke", "symbolSize": 13689, "symbolStrokeWidth": 1.3, "labelOffset": 61, "labelFont": "DejaVu Sans", "labelFontSize": 16, "labelColor": "black", "labelLimit": 500, "labelBaseline": "alphabetic", "clipHeight": 26, "rowPadding": 2}
}
}
